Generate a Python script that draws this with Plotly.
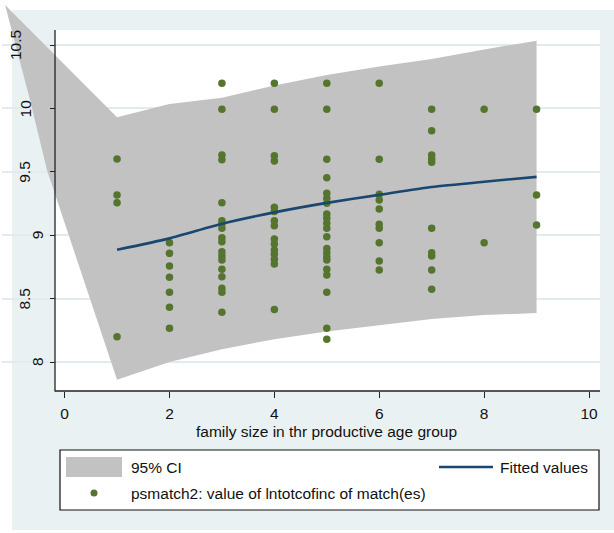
import plotly.graph_objects as go

W, H = 614, 533

# ---- data -------------------------------------------------------------
# matched log income (lntotcofinc) by family size in the productive age group
size_1 = [9.60, 9.317, 9.256, 8.20]
size_2 = [8.941, 8.857, 8.757, 8.668, 8.55, 8.431, 8.266]
size_3 = [10.198, 9.993, 9.632, 9.595, 9.256, 9.114, 9.088, 9.054, 8.98, 8.949,
          8.87, 8.836, 8.804, 8.731, 8.673, 8.581, 8.55, 8.392]
size_4 = [10.198, 9.993, 9.627, 9.585, 9.22, 9.186, 9.114, 9.075, 8.97, 8.93,
          8.883, 8.849, 8.81, 8.773, 8.415]
size_5 = [10.198, 9.993, 9.598, 9.454, 9.33, 9.291, 9.252, 9.167, 9.133, 9.094,
          9.054, 8.988, 8.896, 8.862, 8.83, 8.804, 8.731, 8.686, 8.55, 8.266, 8.179]
size_6 = [10.198, 9.598, 9.322, 9.278, 9.207, 9.086, 9.054, 8.941, 8.797, 8.726]
size_7 = [9.993, 9.824, 9.632, 9.60, 9.575, 9.054, 8.862, 8.836, 8.726, 8.573]
size_8 = [9.993, 8.941]
size_9 = [9.993, 9.317, 9.08]

# fitted values and 95% confidence band
fit_x = [1, 2, 3, 4, 5, 6, 7, 8, 9]
fit_y = [8.885, 8.975, 9.09, 9.18, 9.255, 9.318, 9.38, 9.422, 9.46]
ci_upper = [9.93, 10.035, 10.084, 10.18, 10.264, 10.33, 10.39, 10.465, 10.534]
ci_lower = [7.86, 8.0, 8.10, 8.18, 8.24, 8.29, 8.34, 8.37, 8.386]
# left end of the band, running from its top corner down towards the lower bound at x = 1
ci_left_x = [-1.135, -0.66, -0.336]
ci_left_y = [10.815, 10.066, 9.514]

x_ticks = [0, 2, 4, 6, 8, 10]
y_ticks = [8, 8.5, 9, 9.5, 10, 10.5]
y_tick_labels = ["8", "8.5", "9", "9.5", "10", "10.5"]

x_title = "family size in thr productive age group"
legend_ci = "95% CI"
legend_fit = "Fitted values"
legend_obs = "psmatch2: value of lntotcofinc of match(es)"

columns = [size_1, size_2, size_3, size_4, size_5, size_6, size_7, size_8, size_9]
obs_x, obs_y = [], []
for fs, vals in zip(fit_x, columns):
    obs_x += [fs] * len(vals)
    obs_y += vals

# ---- styling ------------------------------------------------------------
NAVY = "#1a476f"
GREEN = "#55752f"
CI_GRAY = "#c2c2c2"
REGION = "#eaf1f3"
GRID = "#e3ebee"
FONT = "Liberation Sans, Arial, sans-serif"
FS = 15.5

# horizontal centre (px) of each rotated y tick label
y_label_px = [37, 25, 37, 25, 25, 15]


def px(x):
    return x / W


def py(y):
    return 1 - y / H


# plotting area in pixels (band polygon may extend past the axes)
X0, X1, Y0, Y1 = 2, 600, 2, 391
# axis scale: x = 0 at pixel 64.6, 52.44 px per unit; y = 8 at pixel 362, 126.8 px per unit
x_range = [(X0 - 64.6) / 52.44, (X1 - 64.6) / 52.44]
y_range = [8 - (Y1 - 362) / 126.8, 8 + (362 - Y0) / 126.8]

fig = go.Figure()

band_x = ci_left_x[:1] + fit_x + fit_x[::-1] + ci_left_x[::-1]
band_y = ci_left_y[:1] + ci_upper + ci_lower[::-1] + ci_left_y[::-1]
fig.add_trace(go.Scatter(
    x=band_x, y=band_y,
    fill="toself", fillcolor=CI_GRAY, line=dict(width=0),
    mode="lines", hoverinfo="skip", showlegend=False,
))
fig.add_trace(go.Scatter(
    x=obs_x, y=obs_y, mode="markers",
    marker=dict(color=GREEN, size=7.5, line=dict(width=0)),
    showlegend=False,
))
fig.add_trace(go.Scatter(
    x=fit_x, y=fit_y, mode="lines",
    line=dict(color=NAVY, width=2.6, shape="spline", smoothing=0.6),
    showlegend=False,
))

shapes = [
    # graph region and plot region
    dict(type="rect", xref="paper", yref="paper", x0=px(12), x1=px(W + 5),
         y0=py(530), y1=py(10), fillcolor=REGION, line=dict(width=0), layer="below"),
    dict(type="rect", xref="paper", yref="paper", x0=px(55), x1=px(600),
         y0=py(391), y1=py(30), fillcolor="white", line=dict(width=0), layer="below"),
    # axis lines
    dict(type="line", xref="paper", yref="paper", x0=px(55), x1=px(55),
         y0=py(30), y1=py(391.5), line=dict(color="#222", width=1.3), layer="above"),
    dict(type="line", xref="paper", yref="paper", x0=px(55), x1=px(600),
         y0=py(391), y1=py(391), line=dict(color="#222", width=1.3), layer="above"),
    # legend box
    dict(type="rect", xref="paper", yref="paper", x0=px(60), x1=px(599),
         y0=py(510), y1=py(450), fillcolor="white", line=dict(color="#111", width=1.2),
         layer="above"),
    dict(type="rect", xref="paper", yref="paper", x0=px(66), x1=px(122),
         y0=py(477), y1=py(457), fillcolor=CI_GRAY, line=dict(width=0), layer="above"),
    dict(type="line", xref="paper", yref="paper", x0=px(439), x1=px(493),
         y0=py(467), y1=py(467), line=dict(color=NAVY, width=2.6), layer="above"),
    dict(type="circle", xref="paper", yref="paper", x0=px(90.5), x1=px(97.5),
         y0=py(496.5), y1=py(489.5), fillcolor=GREEN, line=dict(width=0), layer="above"),
]

tfont = dict(family=FONT, size=FS, color="#111")
annotations = [
    dict(text=x_title, x=5, xref="x", y=py(431), yref="paper", showarrow=False,
         xanchor="center", yanchor="middle", font=tfont),
    dict(text=legend_ci, x=px(129), xref="paper", y=py(467), yref="paper",
         showarrow=False, xanchor="left", yanchor="middle", font=tfont),
    dict(text=legend_fit, x=px(590), xref="paper", y=py(467), yref="paper",
         showarrow=False, xanchor="right", yanchor="middle", font=tfont),
    dict(text=legend_obs, x=px(129), xref="paper", y=py(493), yref="paper",
         showarrow=False, xanchor="left", yanchor="middle", font=tfont),
]
# rotated y tick labels
for v, lab, cx in zip(y_ticks, y_tick_labels, y_label_px):
    annotations.append(dict(
        text=lab, x=px(cx), xref="paper", y=v, yref="y", showarrow=False,
        textangle=-90, xanchor="center", yanchor="middle", font=tfont,
    ))

fig.update_layout(
    template="none",
    width=W, height=H,
    margin=dict(l=0, r=0, t=0, b=0),
    paper_bgcolor="white",
    plot_bgcolor="rgba(0,0,0,0)",
    showlegend=False,
    shapes=shapes,
    annotations=annotations,
    xaxis=dict(
        domain=[px(X0), px(X1)], range=x_range, anchor="y",
        tickvals=x_ticks, ticktext=[str(t) for t in x_ticks],
        ticks="outside", ticklen=6, tickwidth=1.2, tickcolor="#222",
        showgrid=False, zeroline=False, showline=False, automargin=False,
        tickfont=tfont, ticklabelstandoff=2,
    ),
    yaxis=dict(
        domain=[py(Y1), py(Y0)], range=y_range, anchor="free", position=px(55),
        tickvals=y_ticks, showticklabels=False,
        ticks="outside", ticklen=5, tickwidth=1.2, tickcolor="#222",
        showgrid=True, gridcolor=GRID, gridwidth=1.5,
        zeroline=False, showline=False, automargin=False,
    ),
)

fig.write_html("out.html")
